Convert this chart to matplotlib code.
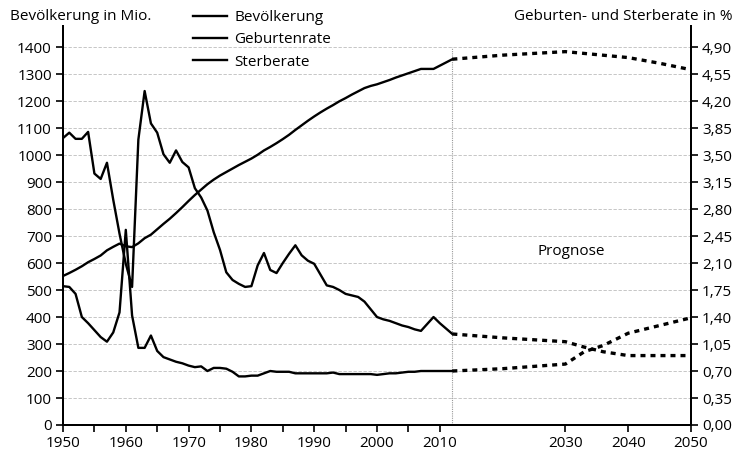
"""
Bevölkerung Chinas 1950-2050 mit Geburten- und Sterberate (inkl. Prognose)
"""

import matplotlib
matplotlib.use("Agg")
import matplotlib.pyplot as plt
from matplotlib.lines import Line2D

plt.rcParams['font.family'] = ['Open Sans', 'DejaVu Sans']

# --- Daten ---
jahre = list(range(1950, 2013))

bevoelkerung = [552, 563, 575, 588, 603, 615, 628, 647, 660, 672,
                662, 659, 673, 692, 705, 725, 745, 764, 785, 807,
                830, 852, 872, 892, 909, 924, 937, 950, 963, 975,
                987, 1001, 1017, 1030, 1044, 1059, 1075, 1093, 1110, 1127,
                1143, 1158, 1172, 1185, 1199, 1211, 1224, 1236, 1248, 1256,
                1262, 1270, 1278, 1287, 1295, 1303, 1311, 1319, 1319, 1319,
                1331, 1343, 1355]

geburtenrate = [3.72, 3.79, 3.71, 3.71, 3.80, 3.26, 3.19, 3.40, 2.92, 2.48,
                2.09, 1.79, 3.70, 4.33, 3.91, 3.79, 3.51, 3.40, 3.56, 3.41,
                3.34, 3.07, 2.95, 2.78, 2.50, 2.27, 1.98, 1.88, 1.83, 1.79,
                1.80, 2.07, 2.23, 2.01, 1.97, 2.10, 2.22, 2.33, 2.20, 2.13,
                2.09, 1.95, 1.81, 1.79, 1.75, 1.70, 1.68, 1.66, 1.60, 1.50,
                1.40, 1.37, 1.35, 1.32, 1.29, 1.27, 1.24, 1.22, 1.31, 1.40,
                1.32, 1.25, 1.18]

sterberate = [1.80, 1.79, 1.70, 1.40, 1.32, 1.23, 1.14, 1.08, 1.20, 1.46,
              2.53, 1.42, 1.00, 1.00, 1.16, 0.96, 0.88, 0.85, 0.82, 0.80,
              0.77, 0.75, 0.76, 0.70, 0.74, 0.74, 0.73, 0.69, 0.63, 0.63,
              0.64, 0.64, 0.67, 0.70, 0.69, 0.69, 0.69, 0.67, 0.67, 0.67,
              0.67, 0.67, 0.67, 0.68, 0.66, 0.66, 0.66, 0.66, 0.66, 0.66,
              0.65, 0.66, 0.67, 0.67, 0.68, 0.69, 0.69, 0.70, 0.70, 0.70,
              0.70, 0.70, 0.70]

# Prognose
jahre_bev_prog = [2012, 2020, 2030, 2035, 2040, 2045, 2050]
bev_prog = [1355, 1370, 1383, 1372, 1361, 1340, 1316]

jahre_geb_prog = [2012, 2020, 2030, 2033, 2036, 2040, 2050]
geb_prog = [1.18, 1.13, 1.08, 1.01, 0.95, 0.90, 0.90]

jahre_st_prog = [2012, 2020, 2030, 2033, 2036, 2039, 2040, 2045, 2050]
st_prog = [0.70, 0.73, 0.79, 0.95, 1.03, 1.15, 1.19, 1.29, 1.39]

# Achsen
x_ticks = [1950, 1955, 1960, 1965, 1970, 1975, 1980, 1985, 1990, 1995,
           2000, 2005, 2010, 2030, 2040, 2050]
x_labels = ['1950', '', '1960', '', '1970', '', '1980', '', '1990', '',
            '2000', '', '2010', '2030', '2040', '2050']
y_links = list(range(0, 1401, 100))
y_rechts = [round(0.35 * i, 2) for i in range(15)]

# --- Figur ---
fs = 11
fig = plt.figure(figsize=(7.37, 4.51), dpi=100)
ax = fig.add_axes([63 / 737, 26 / 451, 628 / 737, 399 / 451])
y_top = 1478
ax.set_xlim(1950, 2050)
ax.set_ylim(0, y_top)

# Gitterlinien
for y in y_links[1:]:
    ax.axhline(y, color='#bdbdbd', lw=0.6, ls=(0, (4, 2)), zorder=0)
ax.vlines(2012, 0, 1400, color='#999999', lw=0.8, ls=(0, (1, 1)), zorder=1)

lw = 1.7
dot = (0, (1.5, 1.5))
ax.plot(jahre, bevoelkerung, color='black', lw=lw, zorder=3)
ax.plot(jahre_bev_prog, bev_prog, color='black', lw=2.4, ls=dot, zorder=3)

ax2 = ax.twinx()
ax2.set_ylim(0, y_top * 0.0035)
ax2.plot(jahre, geburtenrate, color='black', lw=lw, zorder=3)
ax2.plot(jahre, sterberate, color='black', lw=lw, zorder=3)
ax2.plot(jahre_geb_prog, geb_prog, color='black', lw=2.4, ls=dot, zorder=3)
ax2.plot(jahre_st_prog, st_prog, color='black', lw=2.4, ls=dot, zorder=3)

# Spines
for a in (ax, ax2):
    a.spines['top'].set_visible(False)
    for s in ('left', 'right', 'bottom'):
        a.spines[s].set_linewidth(1.4)

ax.set_xticks(x_ticks)
ax.set_xticklabels(x_labels)
ax.set_yticks(y_links)
ax.set_yticklabels([str(v) for v in y_links])
ax2.set_yticks(y_rechts)
ax2.set_yticklabels([f"{v:.2f}".replace('.', ',') for v in y_rechts])

ax.tick_params(axis='both', labelsize=fs, length=5, width=1.2, pad=3)
ax2.tick_params(axis='y', labelsize=fs, length=5, width=1.2, pad=3)

# Beschriftungen
fig.text(10 / 737, 1 - 16 / 451, 'Bevölkerung in Mio.', fontsize=fs,
         ha='left', va='center')
fig.text(732 / 737, 1 - 16 / 451, 'Geburten- und Sterberate in %', fontsize=fs,
         ha='right', va='center')
ax.text(2031, 644, 'Prognose', fontsize=fs, ha='center', va='center')

# Legende
handles = [Line2D([], [], color='black', lw=lw) for _ in range(3)]
fig.legend(handles, ['Bevölkerung', 'Geburtenrate', 'Sterberate'],
           loc='upper left', bbox_to_anchor=(193 / 737, 0.978),
           frameon=False, fontsize=fs, handlelength=2.2, handletextpad=0.5,
           labelspacing=0.48, borderpad=0, borderaxespad=0)

fig.savefig('out.png', dpi=100)
